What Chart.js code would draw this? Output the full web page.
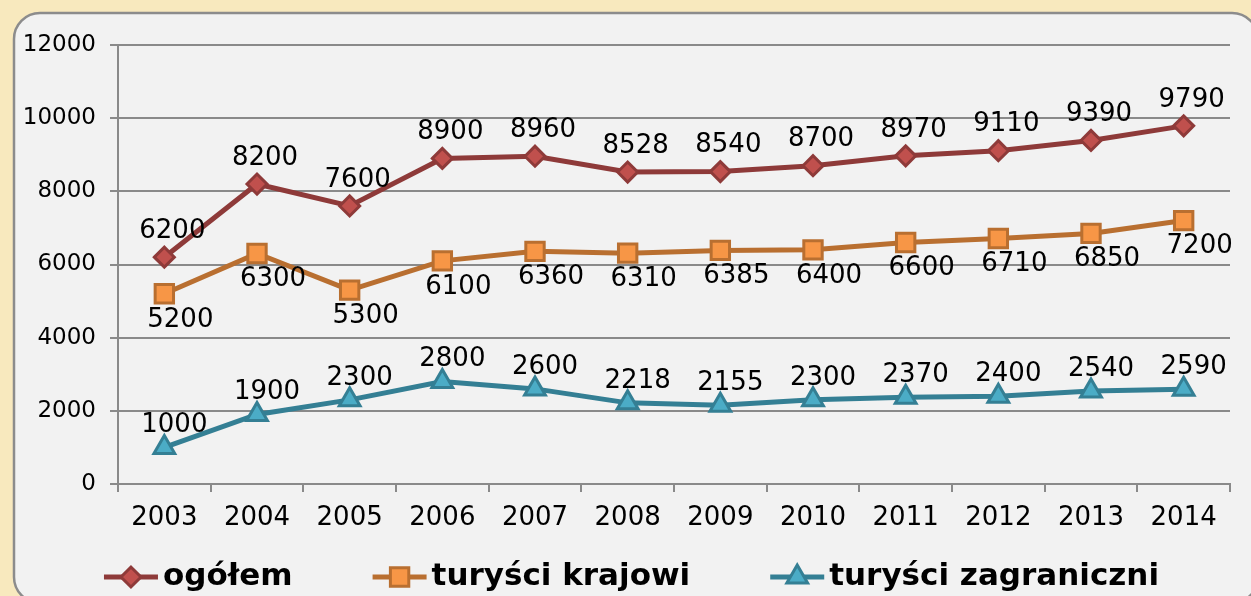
<!DOCTYPE html>
<html>
<head>
<meta charset="utf-8">
<script src="https://cdn.jsdelivr.net/npm/chart.js"></script>
<style>
  html, body { margin: 0; padding: 0; background: #f8e9be; }
  canvas { display: block; }
</style>
</head>
<body>
<canvas id="chart" width="1251" height="596"></canvas>
<script>
// data
const years = ["2003", "2004", "2005", "2006", "2007", "2008", "2009", "2010", "2011", "2012", "2013", "2014"];
const ogolem = [6200, 8200, 7600, 8900, 8960, 8528, 8540, 8700, 8970, 9110, 9390, 9790];
const krajowi = [5200, 6300, 5300, 6100, 6360, 6310, 6385, 6400, 6600, 6710, 6850, 7200];
const zagraniczni = [1000, 1900, 2300, 2800, 2600, 2218, 2155, 2300, 2370, 2400, 2540, 2590];
const seriesNames = ["ogółem", "turyści krajowi", "turyści zagraniczni"];

const FONT = '"DejaVu Sans", Verdana, sans-serif';
const GRID = "#8a8a8a";

// background: cream page with the light grey rounded panel
const panelPlugin = {
  id: "panel",
  beforeDraw(chart) {
    const ctx = chart.ctx;
    ctx.save();
    ctx.fillStyle = "#f8e9be";
    ctx.fillRect(0, 0, chart.width, chart.height);
    ctx.beginPath();
    ctx.roundRect(14, 13, 1244, 590, 26);
    ctx.fillStyle = "#f2f2f2";
    ctx.fill();
    ctx.lineWidth = 2.5;
    ctx.strokeStyle = "#8c8c8c";
    ctx.stroke();
    ctx.restore();
  },
};

// value labels next to every point
const valueLabels = {
  id: "valueLabels",
  afterDatasetsDraw(chart) {
    const ctx = chart.ctx;
    ctx.save();
    ctx.font = "26px " + FONT;
    ctx.fillStyle = "#000";
    ctx.textAlign = "center";
    ctx.textBaseline = "middle";
    chart.data.datasets.forEach((ds, di) => {
      const meta = chart.getDatasetMeta(di);
      const off = ds.labelOffset;
      meta.data.forEach((pt, i) => {
        ctx.fillText(String(ds.data[i]), pt.x + off.x, pt.y + off.y);
      });
    });
    ctx.restore();
  },
};

// legend with line + marker icons, drawn under the axis
const markerLegend = {
  id: "markerLegend",
  afterDraw(chart) {
    const ctx = chart.ctx;
    const iconW = 54, gap = 5, spacing = 80, y = 577;
    ctx.save();
    ctx.font = "bold 31px " + FONT;
    const items = chart.data.datasets.map((ds) => ({
      ds: ds,
      w: iconW + gap + ctx.measureText(ds.label).width,
    }));
    const total = items.reduce((s, it) => s + it.w, 0) + spacing * (items.length - 1);
    let x = chart.width / 2 + 6 - total / 2;
    items.forEach((it) => {
      const ds = it.ds;
      ctx.strokeStyle = ds.borderColor;
      ctx.lineWidth = 5;
      ctx.beginPath();
      ctx.moveTo(x, y);
      ctx.lineTo(x + iconW, y);
      ctx.stroke();
      ctx.fillStyle = ds.pointBackgroundColor;
      ctx.strokeStyle = ds.pointBorderColor;
      ctx.lineWidth = ds.pointBorderWidth;
      Chart.helpers.drawPoint(
        ctx,
        { pointStyle: ds.pointStyle, radius: ds.pointRadius, borderWidth: ds.pointBorderWidth, rotation: 0 },
        x + iconW / 2,
        y
      );
      ctx.fillStyle = "#000";
      ctx.textAlign = "left";
      ctx.textBaseline = "middle";
      ctx.fillText(ds.label, x + iconW + gap, y);
      x += it.w + spacing;
    });
    ctx.restore();
  },
};

function series(label, data, line, fill, style, radius, offset) {
  return {
    label: label,
    data: data,
    borderColor: line,
    borderWidth: 5,
    tension: 0,
    pointStyle: style,
    pointRadius: radius,
    pointHoverRadius: radius,
    pointBackgroundColor: fill,
    pointBorderColor: line,
    pointBorderWidth: 3,
    labelOffset: offset,
  };
}

const ctx = document.getElementById("chart");
new Chart(ctx, {
  type: "line",
  data: {
    labels: years,
    datasets: [
      series(seriesNames[0], ogolem, "#8e3a39", "#c0504d", "rectRot", 10, { x: 8, y: -26 }),
      series(seriesNames[1], krajowi, "#b96f30", "#f79646", "rect", 13, { x: 16, y: 26 }),
      series(seriesNames[2], zagraniczni, "#347f94", "#4bacc6", "triangle", 12, { x: 10, y: -22 }),
    ],
  },
  options: {
    responsive: false,
    animation: false,
    layout: {
      padding: { left: 0, top: 45, right: 21, bottom: 56 },
    },
    plugins: {
      legend: { display: false },
      tooltip: { enabled: false },
    },
    scales: {
      x: {
        offset: true,
        grid: {
          offset: true,
          drawOnChartArea: false,
          drawTicks: true,
          tickLength: 8,
          color: GRID,
          lineWidth: 2,
        },
        border: { color: GRID, width: 2 },
        ticks: {
          color: "#000",
          font: { family: FONT, size: 26 },
          padding: 11,
          maxRotation: 0,
          autoSkip: false,
        },
        afterFit: function (scale) {
          scale.height = 56;
          scale.paddingLeft = 0;
          scale.paddingRight = 0;
        },
      },
      y: {
        min: 0,
        max: 12000,
        grid: {
          color: GRID,
          lineWidth: 2,
          tickLength: 8,
        },
        border: { color: GRID, width: 2 },
        ticks: {
          stepSize: 2000,
          color: "#000",
          font: { family: FONT, size: 23 },
          padding: 14,
          callback: function (value) {
            return String(value);
          },
        },
        afterFit: function (scale) {
          scale.width = 118;
          scale.paddingTop = 0;
          scale.paddingBottom = 0;
        },
      },
    },
  },
  plugins: [panelPlugin, valueLabels, markerLegend],
});
</script>
</body>
</html>
